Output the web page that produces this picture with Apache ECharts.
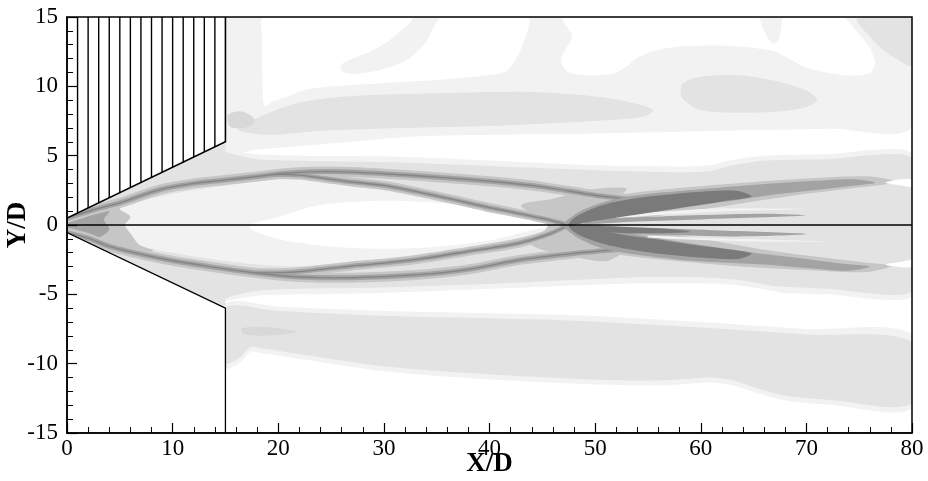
<!DOCTYPE html>
<html>
<head>
<meta charset="utf-8">
<script src="https://cdn.jsdelivr.net/npm/echarts@6/dist/echarts.min.js"></script>
<style>
html,body{margin:0;padding:0;background:#fff}
#chart{width:928px;height:481px}
</style>
</head>
<body>
<div id="chart"></div>
<script>
// ---- Geometry of the intake ramps (X/D, Y/D) ----
const upperWall = [[0, 0.5], [15, 6], [15, 15]];
const lowerWall = [[0, -0.55], [15, -6], [15, -15]];
const hatchX = [1, 2, 3, 4, 5, 6, 7, 8, 9, 10, 11, 12, 13, 14];

// ---- Contour bands of the flow field (outlines in X/D, Y/D) ----
// upper free-stream region
const upperFieldC1 = [[15,15],[80,15],[80,7.05],[72,6.95],[65,6.85],[57,6.7],[50,6.6],[40,6.5],[32,6.35],[27,6.0],[22,5.7],[18,5.45],[15,5.3]];
const upperHoleA = [[18.7,15],[32.6,15],[30.5,13.3],[28.4,12.4],[26.7,11.9],[25.9,11.5],[26.1,11.05],[27.1,10.9],[29.7,11.2],[32.2,11.9],[33.9,13.1],[35.6,15],[43.6,15],[43.2,13.1],[42.3,11.7],[41.5,11.05],[39.8,10.8],[35.6,10.5],[27.1,10.1],[22.9,9.8],[20.8,9.25],[19.5,8.9],[18.7,8.6],[18.5,10.7],[18.5,13.1]];
const upperHoleB = [[47.0,15],[65.3,15],[65.9,14.2],[66.4,13.4],[66.9,13.1],[67.4,13.4],[67.6,14.2],[67.9,15],[73.4,15],[74.6,14.1],[75.9,12.9],[76.5,11.7],[76.0,10.95],[73.6,10.8],[70.2,11.3],[68.1,12.1],[66.8,12.55],[63.0,12.9],[58.8,12.9],[55.8,12.6],[54.1,12.1],[52.9,11.4],[51.6,10.9],[49.1,10.8],[47.4,11.05],[46.8,11.7],[47.0,12.4],[47.8,13.6]];
const upperBandC2 = [[16.2,6.9],[19.5,8.2],[22.5,8.9],[27,9.3],[35,9.5],[44,9.6],[49,9.35],[53,8.9],[55.5,8.3],[54.5,7.8],[50,7.5],[42,7.2],[32,7.0],[24,6.8],[19,6.5]];
const upperOvalC2 = [[58.3,10.2],[60,10.7],[63.5,10.8],[67,10.4],[70,9.7],[71,9.0],[69.5,8.4],[65,8.1],[60,8.3],[58.2,9.2]];
const upperCornerC2 = [[74.8,14.9],[80,14.9],[80,11.5],[78.7,11.9],[77.3,12.6],[76,13.6]];
const upperWallBlobC2 = [[15.2,7.9],[16.3,8.2],[17.4,7.9],[17.8,7.45],[17.0,7.05],[15.5,7.05]];

// lower free-stream region
const lowerFieldC1 = [[15,-5.7],[20,-5.9],[30,-6.2],[48,-6.5],[60,-7.0],[70,-7.5],[80,-7.9],[80,-13.2],[72,-12.95],[68,-12.65],[65.5,-12.15],[63,-11.55],[60.9,-11.35],[56.7,-11.55],[48.2,-11.45],[31.4,-10.65],[18.5,-9.25],[17.4,-9.15],[16.3,-9.95],[15,-10.3]];
const lowerFieldC2 = [[15,-6.0],[20,-6.2],[30,-6.55],[48,-6.9],[60,-7.4],[70,-7.9],[80,-8.45],[80,-12.85],[72,-12.6],[68,-12.3],[65.5,-11.8],[63,-11.2],[60.9,-11.0],[56.7,-11.2],[48.2,-11.1],[31.4,-10.3],[18.5,-8.9],[17.4,-8.8],[16.3,-9.6],[15,-9.95]];
const lowerStreak = [[16.5,-7.45],[19,-7.35],[21.7,-7.7],[19.5,-7.95],[16.8,-7.9]];

// jet / shock-lens region
const plumeC1 = [[0,0.5],[15,6.0],[15,5.5],[18,5.1],[22,5.0],[30,4.95],[40,4.65],[50,4.3],[58,4.2],[61,4.3],[63,4.7],[66,5.0],[72,5.1],[80,5.15],[80,-5.1],[72,-5.0],[68,-4.9],[65,-4.5],[62,-4.25],[55,-4.2],[50,-4.3],[40,-4.6],[30,-4.9],[22,-5.0],[18,-5.1],[15,-5.5],[15,-6.0],[0,-0.55]];
const plumeC2 = [[0,0.45],[15,5.85],[15,5.3],[18,4.75],[25,4.6],[32,4.5],[40,4.25],[50,3.95],[58,3.8],[61,3.9],[63,4.3],[66,4.65],[72,4.75],[80,4.8],[80,-4.75],[72,-4.6],[67,-4.4],[64,-4.0],[61,-3.8],[55,-3.75],[50,-3.9],[40,-4.25],[30,-4.5],[22,-4.6],[18,-4.75],[15,-5.3],[15,-5.85],[0,-0.5]];
const lensInnerC1 = [[5,1.2],[9,2.1],[15,2.85],[20,3.3],[24,3.35],[27,2.95],[33,2.15],[40,1.15],[46,0.2],[47,0],[44,-0.7],[40,-1.35],[33,-2.25],[27,-2.65],[21,-3.0],[15,-2.6],[10,-2.0],[7,-1.5],[6,-0.6],[5.5,0],[6,0.6]];
const lensWhite = [[17.3,0],[20.1,0.6],[23.9,1.44],[30.2,1.75],[36.5,1.5],[42.8,0.75],[46,0.2],[46.5,0],[44.4,-0.3],[39.7,-1.15],[33.4,-1.65],[27,-1.65],[20.8,-1.15],[17.6,-0.4]];
const channelC3 = [[0,0.5],[2.5,1.25],[5,1.7],[7.5,1.6],[9,0.9],[10,0.1],[9,-0.8],[8,-1.9],[5,-1.9],[2,-1.2],[0,-0.55]];
const channelTipC4 = [[0,0.45],[2,0.85],[4,1.0],[3.5,0.4],[4,-0.3],[3,-0.9],[1.5,-0.9],[0,-0.5]];

// shock lines
const upperOuterShock = [[0,0.5],[2.5,1.1],[5,1.6],[8.8,2.55],[12,3.0],[15,3.25],[18,3.5],[21,3.75],[25,3.85],[30,3.7],[35,3.45],[40,3.15],[45,2.75],[50,2.15],[54,1.8]];
const upperInnerShock = [[19.5,3.65],[22,3.6],[24.5,3.35],[27,3.1],[30,2.85],[33.4,2.35],[36.5,1.85],[39.7,1.3],[43,0.8],[46,0.3],[47.5,0]];
const lowerOuterShock = [[0,-0.55],[2,-0.95],[4.1,-1.56],[8.8,-2.4],[13.5,-3.0],[18.3,-3.5],[22,-3.75],[27,-3.8],[33,-3.6],[38,-3.2],[43,-2.5],[48,-2.05],[52.5,-1.75]];
const lowerInnerShock = [[18,-3.45],[21.4,-3.4],[27,-2.95],[30,-2.75],[33.4,-2.45],[38,-1.9],[42.8,-1.3],[45.5,-0.7],[47.5,0]];

// crossing region downstream of the lens
const crossC3 = [[43,1.4],[46,1.9],[50,2.6],[53,2.6],[51,1.5],[49,0.4],[51,-0.4],[53,-1.6],[51,-2.6],[47,-2.1],[44,-1.4],[45.5,0]];
const upperArmC3 = [[46.5,0],[50,0.1],[55,0.55],[60,1.1],[65,1.7],[70,2.25],[75,2.7],[78.5,3.1],[76,3.5],[70,3.35],[65,3.1],[60,2.8],[55,2.45],[51,1.95],[48,1.1]];
const lowerArmC3 = [[46.5,0],[50,-0.05],[55,-0.45],[60,-1.0],[65,-1.65],[70,-2.2],[75,-2.65],[78,-2.95],[75.5,-3.4],[70,-3.25],[65,-3.05],[60,-2.75],[55,-2.4],[51,-1.95],[48,-1.1]];
const upperArmC4 = [[47,0],[50,0.25],[54,0.7],[58,1.2],[62,1.65],[66,2.1],[70,2.45],[74,2.8],[76.5,3.05],[74.5,3.3],[70,3.15],[66,2.95],[62,2.7],[58,2.45],[54,2.15],[51,1.7],[48.5,0.95]];
const lowerArmC4 = [[47,0],[50,-0.25],[54,-0.7],[58,-1.2],[62,-1.65],[66,-2.1],[70,-2.45],[73.5,-2.8],[76,-3.0],[74,-3.3],[70,-3.1],[66,-2.85],[62,-2.7],[58,-2.5],[54,-2.15],[51,-1.75],[48.5,-1.0]];
const upperArmC6 = [[47.5,0],[50,0.3],[53,0.65],[56,1.0],[59,1.35],[62,1.7],[64.8,2.05],[63.5,2.45],[60,2.4],[57,2.2],[54,1.95],[51.5,1.6],[49.5,1.1],[48,0.5]];
const lowerArmC6 = [[47.5,0],[50,-0.35],[53,-0.75],[56,-1.05],[59,-1.4],[62,-1.7],[64.8,-2.05],[63.5,-2.45],[60,-2.35],[57,-2.15],[54,-1.85],[51.5,-1.5],[49.5,-1.05],[48,-0.5]];
const upperLightStreak = [[52,0.5],[56,0.72],[62,0.98],[70,1.15],[62,1.2],[56,0.95],[52,0.68]];
const upperCenterStreak = [[49,0.08],[54,0.25],[60,0.4],[66,0.55],[70,0.7],[66,0.82],[60,0.72],[54,0.55],[50,0.4]];
const lowerCenterStreak = [[49,-0.05],[55,-0.2],[62,-0.4],[70,-0.65],[64,-0.82],[56,-0.7],[51,-0.55]];
const lowerCenterDark = [[48.3,-0.05],[52,-0.12],[57,-0.28],[59,-0.5],[54,-0.6],[50,-0.45]];
const lowerLightStreak = [[55,-0.78],[60,-0.92],[66,-1.05],[72,-1.2],[66,-1.2],[60,-1.08],[55,-0.9]];
const rightNotchUpper = [[77.5,3.05],[79,3.3],[80,3.25],[80,2.75],[79,2.85]];
const rightNotchLower = [[77.5,-2.85],[79,-3.05],[80,-3.0],[80,-2.55],[79,-2.65]];

const centerLine = [[0, 0], [80, 0]];

// ---- Styling ----
const FONT = '"Liberation Serif", "Times New Roman", serif';
const SHADE = {
  white: '#ffffff', c1: '#f2f2f2', c2: '#e3e3e3', c2b: '#d8d8d8',
  c3: '#c6c6c6', c4: '#a3a3a3', c5: '#858585', c6: '#7a7a7a'
};

let order = 0;
function area(points, shade, smooth) {
  const z2 = order++;
  return {
    type: 'custom', coordinateSystem: 'cartesian2d', clip: true, silent: true,
    data: points,
    renderItem: function (params, api) {
      if (params.dataIndex !== 0) return null;
      return {
        type: 'polygon', z2: z2,
        shape: { points: points.map(p => api.coord(p)), smooth: smooth === undefined ? 0.3 : smooth },
        style: { fill: SHADE[shade] || shade, stroke: null }
      };
    }
  };
}
function curve(points, color, width, smooth) {
  const z2 = order++;
  return {
    type: 'custom', coordinateSystem: 'cartesian2d', clip: true, silent: true,
    data: points,
    renderItem: function (params, api) {
      if (params.dataIndex !== 0) return null;
      return {
        type: 'polyline', z2: z2,
        shape: { points: points.map(p => api.coord(p)), smooth: smooth === undefined ? 0.3 : smooth },
        style: { stroke: SHADE[color] || color, lineWidth: width, fill: null, lineCap: 'round', lineJoin: 'round' }
      };
    }
  };
}
// vertical hatch strokes between the upper ramp surface and the top of the domain
function hatch() {
  const z2 = order++;
  const wallAt = x => {
    const a = upperWall[0], b = upperWall[1];
    return a[1] + (b[1] - a[1]) * (x - a[0]) / (b[0] - a[0]);
  };
  return {
    type: 'custom', coordinateSystem: 'cartesian2d', clip: true, silent: true,
    data: hatchX.map(x => [x, wallAt(x)]),
    renderItem: function (params, api) {
      const x = hatchX[params.dataIndex];
      const p0 = api.coord([x, wallAt(x)]);
      const p1 = api.coord([x, 15]);
      return { type: 'line', z2: z2, shape: { x1: p0[0], y1: p0[1], x2: p1[0], y2: p1[1] },
        style: { stroke: '#000', lineWidth: 1.4 } };
    }
  };
}

const series = [
  area(upperFieldC1, 'c1'),
  area(upperHoleA, 'white'),
  area(upperHoleB, 'white'),
  area(upperBandC2, 'c2'),
  area(upperOvalC2, 'c2'),
  area(upperCornerC2, 'c2'),
  area(upperWallBlobC2, 'c2b'),
  area(lowerFieldC1, 'c1'),
  area(lowerFieldC2, 'c2'),
  area(lowerStreak, 'c2b'),
  area(plumeC1, 'c1', 0.2),
  area(plumeC2, 'c2', 0.2),
  area(channelC3, 'c3'),
  area(lensInnerC1, 'c1'),
  area(lensWhite, 'white'),
  area(channelTipC4, 'c4'),
  area(crossC3, 'c3'),
  area(upperArmC3, 'c3'),
  area(lowerArmC3, 'c3'),
  curve(upperOuterShock, 'c3', 10),
  curve(upperInnerShock, 'c3', 9),
  curve(lowerOuterShock, 'c3', 10),
  curve(lowerInnerShock, 'c3', 9),
  curve(upperOuterShock, 'c4', 5),
  curve(upperInnerShock, 'c4', 4.5),
  curve(lowerOuterShock, 'c4', 5),
  curve(lowerInnerShock, 'c4', 4.5),
  curve(upperOuterShock, 'c5', 1.4),
  curve(upperInnerShock, 'c5', 1.3),
  curve(lowerOuterShock, 'c5', 1.4),
  curve(lowerInnerShock, 'c5', 1.3),
  area(upperArmC4, 'c4'),
  area(lowerArmC4, 'c4'),
  area(upperLightStreak, 'c1'),
  area(lowerLightStreak, 'c1'),
  area(upperCenterStreak, 'c4'),
  area(lowerCenterStreak, 'c4'),
  area(upperArmC6, 'c6'),
  area(lowerArmC6, 'c6'),
  area(lowerCenterDark, 'c6'),
  area(rightNotchUpper, 'white'),
  area(rightNotchLower, 'white'),
  // solid ramps
  area([upperWall[0], upperWall[1], upperWall[2], [0, 15]], 'white', 0),
  area([lowerWall[0], lowerWall[1], lowerWall[2], [0, -15]], 'white', 0),
  hatch(),
  curve(upperWall, '#000', 1.6, 0),
  curve(lowerWall, '#000', 1.3, 0),
  curve(centerLine, '#000', 1.6, 0)
];

const chart = echarts.init(document.getElementById('chart'), null, { renderer: 'canvas' });
chart.setOption({
  animation: false,
  backgroundColor: '#ffffff',
  grid: { left: 67, right: 16, top: 17, bottom: 48, show: true, z: 10, borderColor: '#000', borderWidth: 1.5,
          backgroundColor: 'transparent', containLabel: false, outerBoundsMode: 'none' },
  xAxis: {
    type: 'value', min: 0, max: 80, interval: 10, z: 10,
    name: 'X/D', nameLocation: 'middle', nameGap: 18, nameMoveOverlap: false,
    nameTextStyle: { fontFamily: FONT, fontWeight: 'bold', fontSize: 27, color: '#000' },
    axisLine: { show: true, onZero: false, lineStyle: { color: '#000', width: 1.5 } },
    axisTick: { show: true, inside: true, length: 10, lineStyle: { color: '#000', width: 1.2 } },
    minorTick: { show: true, splitNumber: 5, length: 6, lineStyle: { color: '#000', width: 1 } },
    splitLine: { show: false },
    axisLabel: { color: '#000', fontFamily: FONT, fontSize: 23, margin: 4 }
  },
  yAxis: {
    type: 'value', min: -15, max: 15, interval: 5, z: 10,
    name: 'Y/D', nameLocation: 'middle', nameGap: 35, nameMoveOverlap: false,
    nameTextStyle: { fontFamily: FONT, fontWeight: 'bold', fontSize: 27, color: '#000' },
    axisLine: { show: true, onZero: false, lineStyle: { color: '#000', width: 1.5 } },
    axisTick: { show: true, inside: true, length: 10, lineStyle: { color: '#000', width: 1.2 } },
    minorTick: { show: true, splitNumber: 5, length: 6, lineStyle: { color: '#000', width: 1 } },
    splitLine: { show: false },
    axisLabel: { color: '#000', fontFamily: FONT, fontSize: 23, margin: 9 }
  },
  series: series
});
</script>
</body>
</html>
